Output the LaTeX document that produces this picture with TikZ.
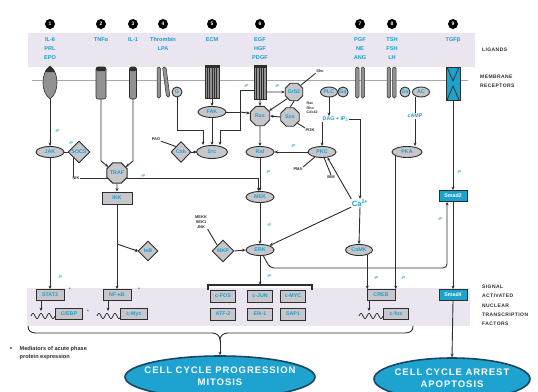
\documentclass[tikz,border=0pt]{standalone}
\usepackage{fontspec}
\setmainfont{Liberation Sans}
\newfontfamily\spacedfont[LetterSpace=8]{Liberation Sans}
\newfontfamily\widefont[LetterSpace=10]{Liberation Sans}
\usetikzlibrary{shapes.geometric,arrows.meta}
\pgfdeclarelayer{bg}
\pgfdeclarelayer{wires}
\pgfsetlayers{bg,wires,main}

\definecolor{cyantxt}{HTML}{1A9FD2}
\definecolor{band}{HTML}{EAE5EE}
\definecolor{edge}{HTML}{2E2E2E}
\definecolor{nfill}{HTML}{C6C6CB}
\definecolor{recfill}{HTML}{929292}
\definecolor{smadfill}{HTML}{1AA3CC}
\definecolor{ovalfill}{HTML}{1EA2D0}
\definecolor{ovaledge}{HTML}{1D4660}
\definecolor{membrane}{HTML}{A8A8A8}

\newcommand\nodefont{\fontsize{5.3}{5.6}\selectfont\bfseries}
\newcommand\tagfont{\fontsize{4}{4}\selectfont\bfseries}
\newcommand\ligfont{\fontsize{5.6}{9}\selectfont\bfseries}
\newcommand\notefont{\fontsize{4}{5}\selectfont\bfseries}
\newcommand\sidefont{\spacedfont\fontsize{5}{9.2}\selectfont\bfseries}
\newcommand\outfont{\widefont\fontsize{9.5}{11.5}\selectfont\bfseries}

\begin{document}
\begin{tikzpicture}[x=1pt,y=-1pt,
  lbl/.style={font=\nodefont, text=cyantxt},
  ell/.style={ellipse, draw=edge, line width=0.9pt, fill=nfill, inner sep=0pt,
              minimum width=28pt, minimum height=11pt, lbl},
  oct/.style={regular polygon, regular polygon sides=8, draw=edge, line width=0.9pt,
              fill=nfill, inner sep=0pt, minimum size=21pt, lbl},
  dia/.style={diamond, draw=edge, line width=0.9pt, fill=nfill, inner sep=0pt,
              minimum width=22pt, minimum height=22pt, lbl},
  box/.style={rectangle, draw=edge, line width=0.9pt, fill=nfill, inner sep=0pt,
              minimum width=28pt, minimum height=11pt, lbl},
  sbox/.style={box, fill=smadfill, text=white},
  num/.style={circle, fill=black, text=white, inner sep=0pt, minimum size=10pt,
              font=\fontsize{5}{5}\selectfont\bfseries},
  lig/.style={font=\ligfont, text=cyantxt, align=center, anchor=north, inner sep=0pt},
  tag/.style={font=\tagfont, text=cyantxt, inner sep=0pt},
  note/.style={font=\notefont, text=edge, inner sep=0.5pt},
  side/.style={font=\sidefont, text=edge, align=left, anchor=west, inner sep=0pt},
  wire/.style={draw=edge, line width=0.9pt},
  arr/.style={wire, -{Stealth[length=3.4pt,width=3pt]}},
  dot/.style={wire, -{Circle[length=2.8pt]}},
  thinrec/.style={draw=edge, fill=recfill, line width=0.5pt, rounded corners=1.5pt},
  dna/.pic={\draw[edge, line width=0.7pt] plot[domain=0:24, samples=49, smooth]
            (\x,{-2.6*sin(\x*45)});}
]
\useasboundingbox (0,0) rectangle (538,391);

% ---------- background bands and membrane ----------
\begin{pgfonlayer}{bg}
  \fill[white] (0,0) rectangle (538,391);
  \fill[band] (28,33) rectangle (475,67);
  \fill[band] (27,288) rectangle (470,326);
  \draw[membrane, line width=0.9pt] (32,80) -- (468,80);
\end{pgfonlayer}

% ---------- numbered pathways and ligands ----------
\foreach \x/\n in {50/1,101/2,133/3,163/4,212/5,260/6,360/7,392/8,453/9}
  \node[num] (n\n) at (\x,24) {\n};

\node[lig] (l1) at (50,37) {IL-6\\PRL\\EPO};
\node[lig] (l2) at (101,37) {TNFα};
\node[lig] (l3) at (133,37) {IL-1};
\node[lig] (l4) at (163,37) {Thrombin\\LPA};
\node[lig] (l5) at (212,37) {ECM};
\node[lig] (l6) at (260,37) {EGF\\HGF\\PDGF};
\node[lig] (l7) at (360,37) {PGF\\NE\\ANG};
\node[lig] (l8) at (392,37) {TSH\\FSH\\LH};
\node[lig] (l9) at (453,37) {TGFβ};

\node[side] (ligtxt) at (482,50) {LIGANDS};
\node[side] (memtxt) at (480,81) {MEMBRANE\\RECEPTORS};
\node[side, anchor=north west] (nuctxt) at (482,285)
  {SIGNAL\\ACTIVATED\\NUCLEAR\\TRANSCRIPTION\\FACTORS};

% ---------- membrane receptors ----------
% cytokine receptor
\draw[edge, fill=recfill, line width=0.6pt] (50,66) .. controls (56,70) and (57,78) .. (57,83)
  .. controls (57,89) and (55,95) .. (50,99) .. controls (45,95) and (43,89) .. (43,83)
  .. controls (43,78) and (44,70) .. (50,66) -- cycle;
\fill[edge] (50,66) .. controls (53,68) and (54,70) .. (55,72) -- (45,72)
  .. controls (46,70) and (47,68) .. (50,66) -- cycle;
% TNF and IL-1 receptors
\draw[edge, fill=recfill, line width=0.6pt, rounded corners=2pt] (96,67) rectangle (106,99);
\fill[edge, rounded corners=1.5pt] (96,67) rectangle (106,71);
\draw[edge, fill=recfill, line width=0.6pt, rounded corners=2pt] (129.5,67) rectangle (136.5,99);
\fill[edge, rounded corners=1.5pt] (129.5,67) rectangle (136.5,71);
% seven-transmembrane receptors
\draw[thinrec] (157,67) rectangle (160.5,98);
\draw[thinrec] (162.5,67) -- (166,67) -- (170,97) -- (166.5,97) -- cycle;
\draw[thinrec] (355.5,67) rectangle (359,98);
\draw[thinrec] (361,67) rectangle (364.5,98);
\draw[thinrec] (387,67) rectangle (390.5,98);
\draw[thinrec] (392.5,67) rectangle (396,98);
% integrin and growth factor receptor
\draw[edge, fill=recfill, line width=0.6pt] (205,65) rectangle (219,98);
\foreach \s in {207.3,209.6,211.9,214.2,216.5} \draw[edge, line width=0.45pt] (\s,65) -- (\s,98);
\fill[edge] (205,65) rectangle (219,68);
\draw[edge, fill=recfill, line width=0.6pt] (254,65) rectangle (266,99);
\foreach \s in {256.4,258.8,261.2,263.6} \draw[edge, line width=0.45pt] (\s,65) -- (\s,99);
\fill[edge] (254,65) rectangle (266,68);
% TGF-beta receptor
\draw[edge, fill=smadfill, line width=0.6pt] (446,67) rectangle (460,100);
\draw[edge, line width=0.8pt] (447,67) -- (453,81) -- (459,67);
\draw[edge, line width=0.8pt] (447,100) -- (453,86) -- (459,100);

\coordinate (r1) at (50,99);
\coordinate (r2) at (101,99);
\coordinate (r3) at (133,99);
\coordinate (r5) at (212,98);
\coordinate (r6) at (260,99);
\coordinate (r6w) at (254,90);
\coordinate (r6e) at (266,92);
\coordinate (r9) at (453,100);

% ---------- cytoplasmic signalling nodes ----------
\node[ell] (jak) at (50,152) {JAK};
\node[dia] (socs) at (79,152) {SOCS};
\node[note, anchor=north] (nik) at (76,176.5) {NIK};
\node[oct, minimum size=22pt] (traf) at (117,173) {TRAF};
\node[box, minimum width=30pt, minimum height=12pt] (ikk) at (117,198) {IKK};
\node[dia, minimum width=20pt, minimum height=20pt] (ikb) at (148,251) {IκB};

\node[ell, minimum width=10pt, minimum height=10pt] (gp) at (177,92) {G};
\node[ell] (fak) at (212,112) {FAK};
\node[ell, minimum width=31pt, minimum height=13pt] (src) at (212,152) {Src};
\node[dia, minimum width=20pt, minimum height=21pt] (csk) at (181,152) {Csk};
\node[note] (pag) at (156,139) {PAG};

\node[oct] (ras) at (260,116) {Ras};
\node[oct, minimum size=19pt] (grb) at (294,92) {Grb2};
\node[oct, minimum size=20pt] (sos) at (290,117) {Sos};
\node[note] (shc) at (320,71) {Shc};
\node[note, align=left, anchor=west, font=\fontsize{3.6}{4.6}\selectfont\bfseries] (rac) at (306,108) {Rac\\Rho\\Cdc42};
\node[note] (pi3k) at (310,130) {PI3K};

\node[ell] (raf) at (260,152) {Raf};
\node[ell] (mek) at (260,197) {MEK};
\node[ell] (erk) at (260,250) {ERK};
\node[dia] (mkp) at (223,251) {MKP};
\node[note, align=center] (mkk) at (201,222) {MEKK\\SEK1\\JNK};

\node[ell, minimum width=17pt, minimum height=10pt] (plc) at (329,92) {PLC};
\node[ell, minimum width=10pt, minimum height=10pt] (gq) at (343,92) {Gq};
\node[lbl, anchor=west, inner sep=0.5pt] (dag) at (322,119) {DAG + IP\textsubscript{3}};
\node[ell] (pkc) at (322,152) {PKC};
\node[note] (pma) at (298,169) {PMA};
\node[note] (bim) at (331,177) {BIM};
\node[font=\fontsize{7.5}{8}\selectfont\bfseries, text=cyantxt, inner sep=0.5pt] (ca) at (360,203) {Ca\textsuperscript{2+}};
\node[ell, minimum width=27pt] (camk) at (359,250) {CaMK};

\node[ell, minimum width=10pt, minimum height=10pt] (gs) at (405,92) {Gs};
\node[ell, minimum width=17pt, minimum height=10pt] (ac) at (421,92) {AC};
\node[lbl, inner sep=0.5pt] (camp) at (415,116) {cAMP};
\node[ell, minimum width=30pt] (pka) at (407,152) {PKA};

\node[sbox] (smad) at (453,196) {Smad2};

% ---------- nuclear transcription factors ----------
\node[box] (stat) at (50,295) {STAT3};
\node[box, minimum width=27pt] (cebp) at (69,314) {C/EBP};
\node[box] (nfkb) at (117,295) {NF-κB};
\node[box, minimum width=27pt] (myc) at (134,314) {c-Myc};
\node[box] (creb) at (381,295) {CREB};
\node[box, minimum width=25pt] (fos) at (396,314) {c-fos};
\node[sbox] (smadn) at (453,295) {Smad4};

\node[box, minimum width=25pt, minimum height=12pt] (g1) at (223,296) {c-FOS};
\node[box, minimum width=25pt, minimum height=12pt] (g2) at (260,296) {c-JUN};
\node[box, minimum width=25pt, minimum height=12pt] (g3) at (293,296) {c-MYC};
\node[box, minimum width=25pt, minimum height=12pt] (g4) at (223,314) {ATF-2};
\node[box, minimum width=25pt, minimum height=12pt] (g5) at (260,314) {Elk-1};
\node[box, minimum width=25pt, minimum height=12pt] (g6) at (293,314) {SAP1};
\draw[edge, line width=1.1pt] (208,289.5) -- (208,285) -- (312,285) -- (312,289.5);
\coordinate (frm) at (260,285);

\node[lbl, inner sep=0pt] (ast1) at (70,290) {*};
\node[lbl, inner sep=0pt] (ast2) at (88,312) {*};
\node[lbl, inner sep=0pt] (ast3) at (139,290) {*};

% ---------- outcomes ----------
\node[ellipse, draw=ovaledge, line width=1.6pt, fill=ovalfill, minimum width=190pt,
      minimum height=42pt] (prog) at (220,377) {};
\node[text=white, font=\outfont, align=center, inner sep=0pt] (progtxt) at (220,376)
  {CELL CYCLE PROGRESSION\\MITOSIS};
\node[ellipse, draw=ovaledge, line width=1.6pt, fill=ovalfill, minimum width=156pt,
      minimum height=42pt] (arrest) at (452,379) {};
\node[text=white, font=\outfont, align=center, inner sep=0pt] (arresttxt) at (452,378)
  {CELL CYCLE ARREST\\APOPTOSIS};

\node[note, font=\fontsize{6}{6}\selectfont\bfseries] (fnstar) at (11,349) {*};
\node[note, anchor=north west, align=left, font=\fontsize{5.6}{8}\selectfont\bfseries] (fn) at (19,346)
  {Mediators of acute phase\\protein expression};

% ---------- phosphorylation tags ----------
\foreach \x/\y [count=\i] in {57/131,71/143,143/176,60/277,246/86,277/86,293/146,268/172,
                              269/225,269/276,376/278,403/278,440/219,459/172}
  \node[tag] (p\i) at (\x,\y) {-P};

% ---------- connectors ----------
\begin{pgfonlayer}{wires}
  % cytokine / JAK-STAT
  \draw[arr] (r1) -- (jak.north);
  \draw[arr] (jak.south) -- (stat.north);
  \draw[wire] (jak.east) -- (socs.west);
  \draw[wire] (socs.south west) -- (socs.south west |- nik.north);
  \draw[arr] (nik.east) -| (mek.105);
  % TNF / IL-1 / NF-kB
  \draw[arr] (r2) -- (101,161) -- (traf.145);
  \draw[arr] (r3) -- (133,161) -- (traf.35);
  \draw[arr] (traf.south) -- (ikk.north);
  \draw[arr] (ikk.south) -- (nfkb.north);
  \coordinate (nfj) at (117,244);
  \draw[dot] (nfj) -- (ikb.west);
  % integrin, G protein and Src
  \draw[arr] (r5) -- (fak.north);
  \draw[arr] (fak.south) -- (src.north);
  \coordinate (gj) at (203,130);
  \draw[arr] (gp.south) |- (gj) -- (gj |- src.north);
  \coordinate (fj) at (240,130);
  \coordinate (fj2) at (220,130);
  \draw[arr] (r6w) -| (fj) -- (fj2) -- (fj2 |- src.north);
  \draw[wire] (fak.east) -- (fak.east -| fj);
  \draw[arr] (fak.east -| fj) -- (ras.165);
  \draw[dot] (csk.east) -- (src.west);
  \draw[wire] (pag.south east) -- (csk.north west);
  % growth factor / MAP kinase cascade
  \draw[arr] (r6e) -- (grb.west);
  \draw[arr] (r6) -- (ras.north);
  \draw[wire] (grb.south) -- (sos.north);
  \draw[arr] (grb.225) -- (ras.30);
  \draw[arr] (sos.west) -- (ras.east);
  \draw[wire] (grb.45) -- (shc.south west);
  \draw[wire] (sos.-40) -- (pi3k.north west);
  \draw[arr] (ras.south) -- (raf.north);
  \draw[arr] (raf.south) -- (mek.north);
  \draw[arr] (mek.south) -- (erk.north);
  \draw[arr] (erk.south) -- (frm);
  \draw[arr] (mkp.east) -- (erk.west);
  \draw[wire] (mkk.south east) -- (mkp.north west);
  % phospholipase C / calcium
  \draw[arr] (plc.south) -- (plc.south |- dag.north);
  \draw[arr] (dag.south -| pkc.north) -- (pkc.north);
  \draw[arr] (dag.east) -| (ca.north);
  \draw[arr] (ca.north west) -- (pkc.-45);
  \draw[arr] (pkc.west) -- (raf.east);
  \draw[wire] (pma.north east) -- (pkc.215);
  \draw[wire] (bim.north) -- (pkc.-70);
  \draw[arr] (ca.south) -- (camk.north);
  \draw[arr] (ca.south west) -- (erk.25);
  \draw[arr] (camk.-30) -- (camk.-30 |- creb.north);
  % cAMP / PKA
  \draw[wire] (ac.south -| camp.north) -- (camp.north);
  \draw[arr] (camp.south) -- (camp.south |- pka.north);
  \draw[arr] (pka.200) -- (pka.200 |- creb.north);
  % ERK to Smad
  \coordinate (ej) at (270,268);
  \coordinate (sj) at (447,268);
  \draw[arr, rounded corners=4pt] (erk.-60) -- (ej) -- (sj) -- (sj |- smad.south);
  % TGF-beta / Smad
  \draw[arr] (r9) -- (smad.north);
  \draw[arr] (smad.south) -- (smadn.north);
  \draw[arr] (smadn.south) -- (arrest.north);
  % promoters
  \coordinate (d1) at (41,311);
  \coordinate (d2) at (108,311);
  \coordinate (d3) at (369,311);
  \draw[arr] (stat.south -| d1) -- (d1);
  \draw[arr] (nfkb.south -| d2) -- (d2);
  \draw[arr] (creb.south -| d3) -- (d3);
  \pic at (31,316) {dna};
  \pic at (97,316) {dna};
  \pic at (359,316) {dna};
  % convergence to cell cycle progression
  \draw[edge, line width=0.9pt] (28,326) .. controls (28,331) and (31,333) .. (36,333) -- (212,333)
    .. controls (217,333) and (220,336) .. (220,340) .. controls (220,336) and (223,333) .. (228,333)
    -- (405,333) .. controls (410,333) and (413,331) .. (413,326);
  \coordinate (bp) at (220,340);
  \draw[arr] (bp) -- (prog.north);
\end{pgfonlayer}
\end{tikzpicture}
\end{document}
